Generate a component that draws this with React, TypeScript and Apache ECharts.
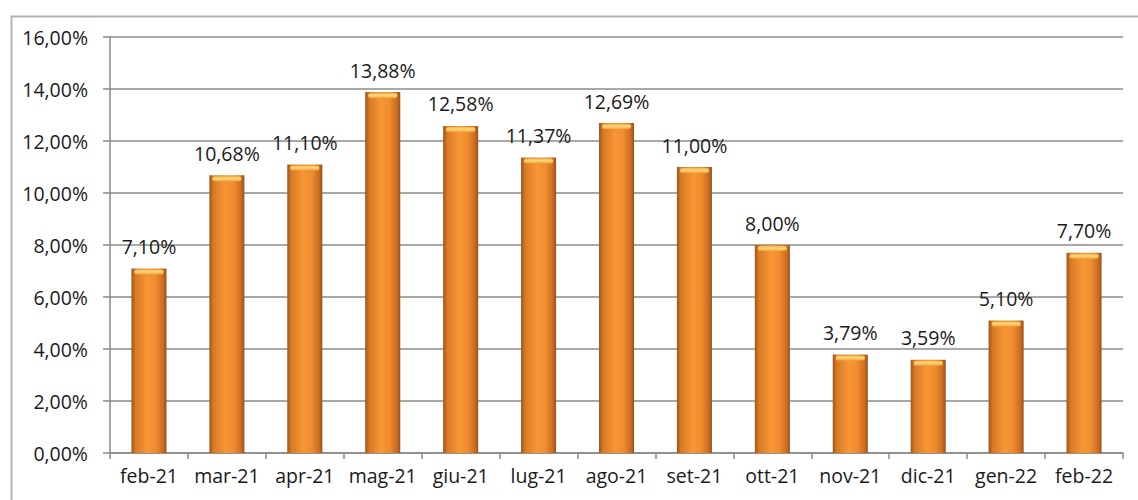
import React, { useEffect, useRef } from "react";
import * as echarts from "echarts";

const categories = ["feb-21", "mar-21", "apr-21", "mag-21", "giu-21", "lug-21", "ago-21", "set-21", "ott-21", "nov-21", "dic-21", "gen-22", "feb-22"];
const values = [7.10, 10.68, 11.10, 13.88, 12.58, 11.37, 12.69, 11.00, 8.00, 3.79, 3.59, 5.10, 7.70];
const yMin = 0;
const yMax = 16;
const yInterval = 2;

const fmt = (v: number) => v.toFixed(2).replace(".", ",") + "%";

export default function App() {
  const ref = useRef<HTMLDivElement>(null);
  useEffect(() => {
    if (!ref.current) return;
    const chart = echarts.init(ref.current, undefined, { renderer: "svg" });
    const font = "'Open Sans', 'Noto Sans', sans-serif";
    const barGrad = new echarts.graphic.LinearGradient(0, 0, 1, 0, [
      { offset: 0, color: "#a0561a" },
      { offset: 0.12, color: "#d87a26" },
      { offset: 0.45, color: "#f79634" },
      { offset: 0.7, color: "#f08c2e" },
      { offset: 0.9, color: "#cc6e22" },
      { offset: 1, color: "#98521a" },
    ]);
    chart.setOption({
      animation: false,
      backgroundColor: "#ffffff",
      grid: { left: 110, right: 15, top: 37, bottom: 47, containLabel: false },
      graphic: [
        {
          type: "rect",
          left: 9,
          top: 14,
          shape: { x: 0, y: 0, width: 1140, height: 500 },
          style: { fill: "none", stroke: "#b4b4b4", lineWidth: 2 },
          silent: true,
          z: -10,
        },
      ],
      xAxis: {
        type: "category",
        data: categories,
        axisLine: { show: true, lineStyle: { color: "#8a8a8a", width: 1.5 } },
        axisTick: { show: true, length: 6, lineStyle: { color: "#8a8a8a", width: 1.5 } },
        axisLabel: { color: "#1a1a1a", fontFamily: font, fontSize: 19.5, margin: 12, interval: 0 },
      },
      yAxis: {
        type: "value",
        min: yMin,
        max: yMax,
        interval: yInterval,
        axisLine: { show: true, lineStyle: { color: "#8a8a8a", width: 1.5 } },
        axisTick: { show: true, length: 7, lineStyle: { color: "#8a8a8a", width: 1.5 } },
        axisLabel: {
          color: "#1a1a1a",
          fontFamily: font,
          fontSize: 19.5,
          margin: 22,
          formatter: (v: number) => fmt(v),
        },
        splitLine: { show: true, lineStyle: { color: "#a8a8a8", width: 2 } },
      },
      series: [
        {
          type: "bar",
          data: values,
          barWidth: "45%",
          itemStyle: { color: barGrad },
          label: {
            show: true,
            position: "top",
            distance: 12,
            color: "#1a1a1a",
            fontFamily: font,
            fontSize: 19.5,
            formatter: (p: any) => fmt(p.value),
          },
          z: 2,
        },
        {
          type: "custom",
          silent: true,
          z: 3,
          data: values.map((v, i) => [i, v]),
          encode: { x: 0, y: 1 },
          renderItem: (params: any, api: any) => {
            const pt = api.coord([api.value(0), api.value(1)]);
            const band = api.size([1, 0])[0];
            const w = band * 0.45;
            return {
              type: "rect",
              shape: { x: pt[0] - w / 2 + 3, y: pt[1] + 1, width: w - 6, height: 5, r: 2.5 },
              style: {
                fill: new echarts.graphic.LinearGradient(0, 0, 0, 1, [
                  { offset: 0, color: "#f2b050" },
                  { offset: 0.45, color: "#fad878" },
                  { offset: 1, color: "#f5a23c" },
                ]),
              },
            };
          },
        },
      ],
    });
    return () => chart.dispose();
  }, []);
  return (
    <div
      ref={ref}
      style={{ position: "absolute", left: 0, top: 0, width: 1138, height: 500 }}
    />
  );
}
